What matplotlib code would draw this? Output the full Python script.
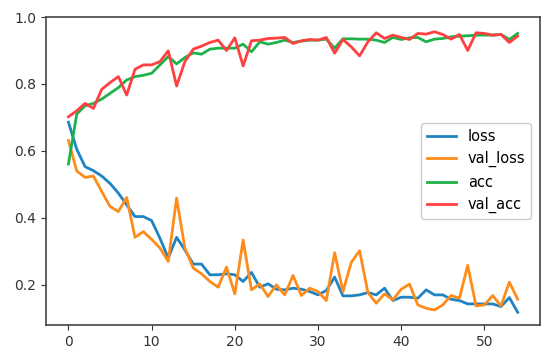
import matplotlib
matplotlib.use("Agg")
import matplotlib.pyplot as plt

epochs = list(range(55))

loss = [0.686, 0.605, 0.553, 0.541, 0.525, 0.503, 0.474, 0.439, 0.404, 0.404,
        0.392, 0.339, 0.280, 0.342, 0.304, 0.262, 0.262, 0.230, 0.230, 0.233,
        0.230, 0.210, 0.237, 0.193, 0.203, 0.187, 0.185, 0.190, 0.187, 0.180,
        0.170, 0.183, 0.223, 0.167, 0.167, 0.170, 0.177, 0.170, 0.190, 0.153,
        0.163, 0.163, 0.160, 0.185, 0.170, 0.170, 0.157, 0.153, 0.143, 0.143,
        0.143, 0.143, 0.135, 0.162, 0.118]

val_loss = [0.631, 0.540, 0.521, 0.525, 0.479, 0.434, 0.419, 0.461, 0.342, 0.359,
            0.336, 0.310, 0.270, 0.459, 0.310, 0.250, 0.233, 0.210, 0.193, 0.253,
            0.173, 0.334, 0.185, 0.203, 0.165, 0.200, 0.170, 0.228, 0.168, 0.190,
            0.180, 0.153, 0.296, 0.180, 0.267, 0.302, 0.177, 0.145, 0.173, 0.155,
            0.187, 0.202, 0.140, 0.130, 0.125, 0.140, 0.168, 0.160, 0.258, 0.137,
            0.140, 0.168, 0.137, 0.208, 0.157]

acc = [0.561, 0.710, 0.735, 0.742, 0.755, 0.772, 0.789, 0.812, 0.822, 0.826,
       0.832, 0.857, 0.882, 0.860, 0.879, 0.893, 0.889, 0.904, 0.907, 0.907,
       0.907, 0.919, 0.896, 0.926, 0.919, 0.924, 0.931, 0.924, 0.928, 0.931,
       0.931, 0.934, 0.907, 0.935, 0.935, 0.934, 0.934, 0.931, 0.924, 0.939,
       0.933, 0.938, 0.939, 0.926, 0.934, 0.936, 0.941, 0.943, 0.944, 0.946,
       0.946, 0.946, 0.948, 0.933, 0.951]

val_acc = [0.702, 0.720, 0.742, 0.727, 0.784, 0.804, 0.822, 0.767, 0.844, 0.857,
           0.857, 0.867, 0.899, 0.794, 0.867, 0.904, 0.913, 0.924, 0.931, 0.900,
           0.938, 0.854, 0.929, 0.931, 0.936, 0.937, 0.939, 0.921, 0.929, 0.933,
           0.931, 0.939, 0.892, 0.933, 0.911, 0.884, 0.926, 0.953, 0.936, 0.946,
           0.939, 0.933, 0.951, 0.949, 0.956, 0.948, 0.934, 0.948, 0.900, 0.953,
           0.951, 0.946, 0.948, 0.924, 0.943]

series = [("loss", loss, "#1f83c4"), ("val_loss", val_loss, "#ff8c1a"),
          ("acc", acc, "#1db34a"), ("val_acc", val_acc, "#ff4040")]

fig = plt.figure(figsize=(5.5, 3.55), dpi=100)
ax = fig.add_axes([0.0836, 0.0845, 0.8984, 0.8675])
for name, vals, col in series:
    ax.plot(epochs, vals, color=col, lw=2.0, label=name)

ax.set_ylim(0.08, 1.0)
ax.set_xticks([0, 10, 20, 30, 40, 50])
ax.set_yticks([0.2, 0.4, 0.6, 0.8, 1.0])
for s in ax.spines.values():
    s.set_color("#444444")
    s.set_linewidth(1.2)
ax.tick_params(colors="#333333", labelsize=10, labelcolor="#333333")
leg = ax.legend(loc="center right", fontsize=10.5, framealpha=1.0,
                borderaxespad=0.6)
leg.get_frame().set_edgecolor("#cccccc")

fig.savefig("out.png", dpi=100)
